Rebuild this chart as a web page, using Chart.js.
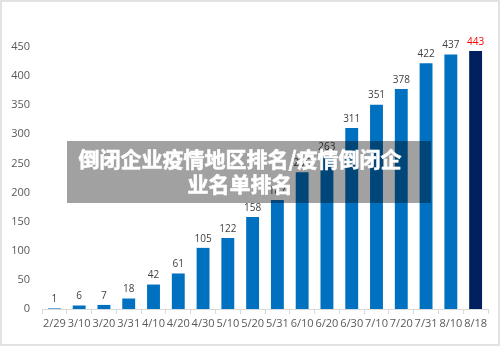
<!DOCTYPE html>
<html>
<head>
<meta charset="utf-8">
<script src="https://cdn.jsdelivr.net/npm/chart.js@4"></script>
<style>
  html, body { margin: 0; padding: 0; background: #fff; }
  #wrap { position: relative; width: 500px; height: 346px; }
  #frame { position: absolute; left: 0; top: 0; width: 500px; height: 346px;
    box-sizing: border-box; border: 2px solid #e2e2e2; pointer-events: none; }
  #banner { position: absolute; left: 67px; top: 141px; width: 364px; height: 62px;
    background: rgba(0, 0, 0, 0.37); color: #fff; box-sizing: border-box;
    padding-right: 18px; text-align: center;
    font: bold 21px "Noto Sans CJK SC", sans-serif; line-height: 25px; padding-top: 5px;
    -webkit-text-stroke: 0.6px #fff; }
</style>
</head>
<body>
<div id="wrap">
  <canvas id="chart" width="500" height="346"></canvas>
  <div id="banner">倒闭企业疫情地区排名/疫情倒闭企<br>业名单排名</div>
  <div id="frame"></div>
</div>
<script>
// 倒闭企业累计数量
const dates = ['2/29', '3/10', '3/20', '3/31', '4/10', '4/20', '4/30', '5/10', '5/20',
  '5/31', '6/10', '6/20', '6/30', '7/10', '7/20', '7/31', '8/10', '8/18'];
const counts = [1, 6, 7, 18, 42, 61, 105, 122, 158, 187, 235, 263, 311, 351, 378, 422, 437, 443];
const yTicks = [0, 50, 100, 150, 200, 250, 300, 350, 400, 450];

const lastIdx = counts.length - 1;
const barColors = counts.map((v, i) => i === lastIdx ? '#002060' : '#0070c0');
const labelColors = counts.map((v, i) => i === lastIdx ? '#ff0000' : '#404040');

// 柱顶数值
const valueLabels = {
  id: 'valueLabels',
  afterDatasetsDraw(chart) {
    const ctx = chart.ctx;
    const meta = chart.getDatasetMeta(0);
    ctx.save();
    ctx.font = '10px "Open Sans", sans-serif';
    ctx.textAlign = 'center';
    ctx.textBaseline = 'bottom';
    meta.data.forEach((bar, i) => {
      ctx.fillStyle = labelColors[i];
      ctx.fillText(String(counts[i]), bar.x, bar.y - 4);
    });
    ctx.restore();
  }
};

new Chart(document.getElementById('chart'), {
  type: 'bar',
  data: {
    labels: dates,
    datasets: [{
      data: counts,
      backgroundColor: barColors,
      barPercentage: 0.52,
      categoryPercentage: 1
    }]
  },
  options: {
    responsive: false,
    animation: false,
    layout: { padding: { left: 0, top: 47, right: 12, bottom: 0 } },
    plugins: { legend: { display: false }, tooltip: { enabled: false } },
    scales: {
      x: {
        afterFit: s => { s.height = 37; },
        grid: { display: true, drawOnChartArea: false, tickLength: 5, color: '#d9d9d9' },
        border: { display: true, color: '#d9d9d9' },
        ticks: { color: '#595959', font: { size: 11, family: '"Open Sans", sans-serif' },
          padding: 3, maxRotation: 0, autoSkip: false }
      },
      y: {
        min: 0,
        max: 450,
        afterFit: s => { s.width = 42; },
        afterBuildTicks: s => { s.ticks = yTicks.map(v => ({ value: v })); },
        grid: { display: false },
        border: { display: false },
        ticks: { color: '#595959', font: { size: 11, family: '"Open Sans", sans-serif' }, padding: 4 }
      }
    }
  },
  plugins: [valueLabels]
});
</script>
</body>
</html>
